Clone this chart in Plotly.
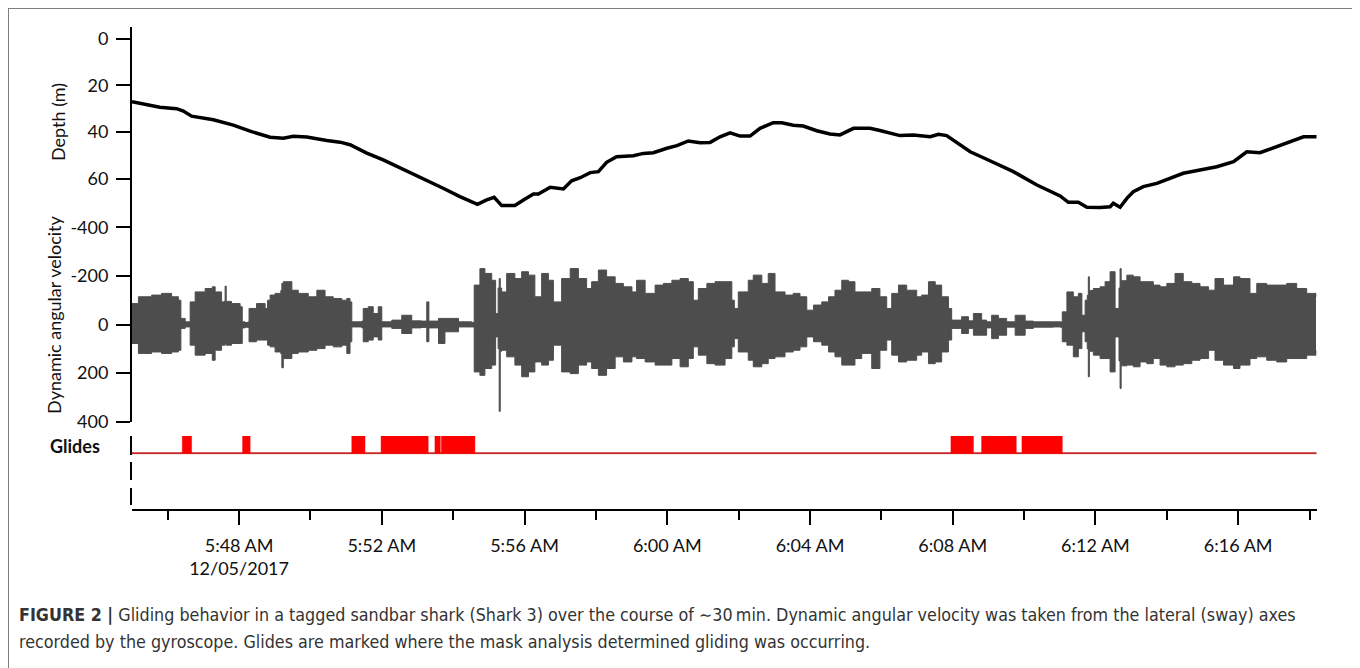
import pandas as pd
import plotly.graph_objects as go

W, H = 1360, 668
START = pd.Timestamp("2017-12-05 05:45:00")
END_MIN = 33.2

# ---- Depth profile (minutes after 5:45:00, depth m) ----
depth_min = [0.00, 0.41, 0.78, 1.25, 1.44, 1.67, 2.09, 2.28, 2.84, 3.31, 3.87, 4.24, 4.52, 4.90,
             5.46, 5.83, 6.11, 6.58, 7.04, 7.51, 8.07, 8.72, 9.19, 9.68, 9.94, 10.15, 10.36, 10.73,
             10.97, 11.25, 11.39, 11.72, 12.09, 12.32, 12.56, 12.84, 13.07, 13.30, 13.58, 14.05,
             14.33, 14.61, 14.99, 15.27, 15.59, 15.92, 16.20, 16.48, 16.76, 17.04, 17.32, 17.60,
             17.97, 18.21, 18.53, 18.81, 19.19, 19.56, 19.84, 20.22, 20.68, 20.96, 21.52, 21.90,
             22.37, 22.60, 22.83, 23.49, 23.95, 24.70, 25.36, 26.01, 26.24, 26.52, 26.76, 27.13,
             27.41, 27.50, 27.69, 27.88, 28.06, 28.34, 28.72, 29.00, 29.46, 29.93, 30.40, 30.87,
             31.24, 31.61, 32.08, 32.55, 32.83, 33.20]
depth_m = [27.0, 28.4, 29.4, 30.0, 31.0, 33.2, 34.2, 34.7, 37.0, 39.6, 42.2, 42.6, 41.8, 42.1,
           43.6, 44.3, 45.4, 49.0, 51.9, 55.2, 59.1, 64.0, 67.6, 70.9, 69.0, 67.9, 71.4, 71.4,
           69.0, 66.5, 66.5, 63.6, 64.3, 60.8, 59.5, 57.3, 56.9, 52.9, 50.5, 50.1,
           49.1, 48.8, 46.9, 45.8, 43.8, 44.5, 44.4, 42.0, 40.3, 41.7, 41.7, 38.4,
           36.0, 36.0, 37.1, 37.4, 39.4, 40.8, 41.2, 38.4, 38.4, 39.3, 41.5, 41.2,
           42.0, 40.9, 41.5, 48.4, 51.6, 56.9, 62.6, 67.3, 70.0, 70.0, 72.1, 72.2,
           71.9, 70.4, 72.1, 68.3, 65.5, 63.3, 61.9, 60.2, 57.6, 56.2, 54.8, 52.6,
           48.4, 48.8, 46.2, 43.7, 42.0, 42.0]

# ---- Dynamic angular velocity envelope (minutes, upper/lower extremes) ----
vel_min = [0.00, 0.18, 0.55, 0.83, 1.11, 1.30, 1.37, 1.49, 1.58, 1.63, 1.77, 2.05, 2.25, 2.33,
           2.51, 2.58, 2.61, 2.64, 2.79, 3.03, 3.09, 3.17, 3.24, 3.28, 3.49, 3.73, 3.80, 3.87,
           4.01, 4.17, 4.20, 4.24, 4.48, 4.66, 4.94, 5.18, 5.41, 5.64, 5.88, 6.02, 6.11, 6.16,
           6.44, 6.48, 6.62, 6.76, 6.90, 7.00, 7.28, 7.56, 7.84, 8.10, 8.26, 8.32, 8.59, 8.77,
           9.15, 9.52, 9.59, 9.75, 9.89, 10.08, 10.19, 10.26, 10.29, 10.32, 10.36, 10.50, 10.73,
           10.92, 11.11, 11.29, 11.48, 11.67, 11.81, 12.04, 12.28, 12.51, 12.74, 12.88, 13.07,
           13.30, 13.54, 13.77, 14.01, 14.14, 14.38, 14.66, 14.89, 15.13, 15.36, 15.59, 15.73,
           15.87, 16.11, 16.34, 16.62, 16.81, 16.88, 16.99, 17.27, 17.41, 17.65, 17.83, 18.02,
           18.30, 18.53, 18.72, 18.91, 19.10, 19.33, 19.52, 19.70, 19.89, 20.08, 20.26, 20.45,
           20.73, 20.96, 21.15, 21.29, 21.48, 21.71, 21.99, 22.13, 22.32, 22.51, 22.69, 22.88,
           22.97, 23.25, 23.44, 23.58, 23.81, 23.95, 24.09, 24.28, 24.51, 24.75, 25.03, 25.26,
           25.82, 26.03, 26.07, 26.20, 26.38, 26.52, 26.62, 26.71, 26.77, 26.80, 26.83, 26.94,
           27.13, 27.27, 27.41, 27.55, 27.66, 27.69, 27.72, 27.88, 28.06, 28.25, 28.44, 28.62,
           28.81, 29.00, 29.23, 29.46, 29.70, 29.93, 30.17, 30.35, 30.59, 30.87, 31.05, 31.33,
           31.52, 31.80, 32.08, 32.36, 32.64, 32.92, 33.18]
vel_top = [-86, -114, -121, -128, -114, -100, -25, -11, -11, -93, -134, -148, -155, -134,
           -93, -95, -158, -95, -86, -73, -11, -8, -10, -66, -86, -66, -100, -121,
           -128, -140, -169, -176, -141, -128, -114, -141, -114, -107, -100, -107, -93, -11,
           -14, -66, -73, -45, -73, -11, -18, -38, -15, -14, -93, -14, -25, -25,
           -11, -8, -162, -230, -210, -182, -45, -150, -189, -150, -134, -210, -189,
           -217, -203, -114, -210, -182, -93, -189, -230, -189, -148, -176, -224,
           -196, -169, -155, -134, -182, -128, -162, -169, -182, -189, -176, -100,
           -148, -169, -176, -176, -100, -66, -134, -182, -203, -169, -210, -134,
           -121, -128, -114, -59, -80, -93, -114, -141, -182, -176, -134, -134,
           -148, -114, -66, -128, -162, -141, -114, -121, -176, -162, -114, -66,
           -18, -32, -15, -45, -18, -11, -38, -25, -11, -38, -14, -11,
           -11, -10, -52, -134, -114, -128, -38, -100, -120, -196, -140, -148,
           -155, -176, -217, -66, -150, -230, -180, -203, -196, -176, -176, -162,
           -155, -169, -210, -176, -169, -155, -141, -189, -162, -196, -189, -128,
           -169, -162, -162, -169, -148, -128, -114]
vel_bottom = [78, 119, 113, 119, 113, 106, 16, 10, 10, 85, 126, 119, 147, 106,
              85, 85, 78, 85, 78, 78, 14, 11, 12, 71, 64, 64, 85, 92,
              113, 120, 178, 140, 119, 113, 106, 99, 85, 92, 85, 119, 71, 10,
              14, 71, 64, 51, 64, 10, 16, 37, 14, 12, 71, 14, 78, 30,
              10, 10, 195, 209, 181, 167, 51, 100, 357, 110, 106, 133, 167,
              215, 195, 154, 167, 147, 85, 195, 202, 167, 154, 181, 209,
              181, 133, 154, 133, 140, 154, 167, 167, 140, 174, 140, 92,
              126, 161, 167, 140, 92, 58, 113, 147, 174, 161, 140, 133,
              113, 106, 92, 51, 71, 85, 113, 133, 167, 167, 140, 119,
              181, 106, 64, 126, 154, 147, 126, 113, 161, 154, 113, 64,
              16, 37, 16, 44, 44, 14, 58, 44, 11, 44, 16, 11,
              10, 12, 71, 85, 133, 99, 30, 71, 100, 215, 110, 126,
              140, 140, 195, 51, 150, 263, 170, 167, 174, 154, 161, 140,
              167, 174, 167, 161, 147, 140, 106, 147, 167, 181, 167, 140,
              133, 147, 154, 140, 140, 126, 106]

# ---- Glides (minutes after 5:45:00) ----
glide_start_min = [1.41, 3.10, 6.16, 6.98, 8.49, 8.67, 22.95, 23.81, 24.94]
glide_end_min = [1.67, 3.31, 6.53, 8.30, 8.64, 9.61, 23.58, 24.78, 26.07]

# ---- Axis ticks ----
major_tick_times = ["05:48", "05:52", "05:56", "06:00", "06:04", "06:08", "06:12", "06:16"]
major_tick_labels = ["5:48 AM<br>12/05/2017", "5:52 AM", "5:56 AM", "6:00 AM",
                     "6:04 AM", "6:08 AM", "6:12 AM", "6:16 AM"]
minor_tick_times = ["05:46", "05:50", "05:54", "05:58", "06:02", "06:06", "06:10", "06:14", "06:18"]
depth_ticks = [0, 20, 40, 60]
vel_ticks = [-400, -200, 0, 200, 400]
vel_tick_labels = ["-400", "-200", "0", "200", "400"]

# page body margin offset (the figure sits 8px in from the page corner)
OX, OY = 8, 8


def to_time(mins):
    return [START + pd.Timedelta(minutes=m) for m in mins]


def clock(hm):
    return pd.Timestamp("2017-12-05 " + hm + ":00")


def px(x):
    return (x - OX) / W


def py(y):
    return 1 - (y - OY) / H


WAVE = "#4d4d4d"
FONT = "Lato, Carlito, 'Open Sans', sans-serif"

fig = go.Figure()

fig.add_trace(go.Scatter(x=to_time(depth_min), y=depth_m, mode="lines",
                         line=dict(color="black", width=3.5), yaxis="y", showlegend=False))

vt = to_time(vel_min)
fig.add_trace(go.Scatter(x=vt, y=vel_top, mode="lines", line=dict(color=WAVE, width=1, shape="hv"),
                         yaxis="y2", showlegend=False))
fig.add_trace(go.Scatter(x=vt, y=vel_bottom, mode="lines", line=dict(color=WAVE, width=1, shape="hv"),
                         fill="tonexty", fillcolor=WAVE, yaxis="y2", showlegend=False))

# glides baseline
fig.add_trace(go.Scatter(x=to_time([0, END_MIN]), y=[0, 0], mode="lines",
                         line=dict(color="#c62828", width=2), yaxis="y3", showlegend=False))
# glide rectangles
gx, gy = [], []
for s, e in zip(glide_start_min, glide_end_min):
    ts, te = to_time([s, e])
    gx += [ts, ts, te, te, ts, None]
    gy += [0, 1, 1, 0, 0, None]
fig.add_trace(go.Scatter(x=gx, y=gy, mode="lines", fill="toself", fillcolor="#ff0000",
                         line=dict(color="#ff0000", width=0.5), yaxis="y3", showlegend=False))

# empty tracks
fig.add_trace(go.Scatter(x=[], y=[], yaxis="y4", showlegend=False))
fig.add_trace(go.Scatter(x=[], y=[], yaxis="y5", showlegend=False))

axis_common = dict(showline=True, linecolor="black", linewidth=2, showgrid=False,
                   zeroline=False, automargin=False)
tickfont = dict(family=FONT, size=18, color="#111111")

fig.update_layout(
    width=W, height=H, autosize=False,
    margin=dict(l=0, r=0, t=0, b=0, pad=0, autoexpand=False),
    paper_bgcolor="white", plot_bgcolor="white",
    xaxis=dict(
        type="date",
        range=[START, START + pd.Timedelta(minutes=END_MIN)],
        domain=[px(132), px(1316.7)],
        anchor="free", position=py(510),
        tickmode="array",
        tickvals=[clock(t) for t in major_tick_times],
        ticktext=major_tick_labels,
        ticks="outside", ticklen=14, tickwidth=2, tickcolor="black",
        ticklabelstandoff=5,
        minor=dict(tickmode="array", tickvals=[clock(t) for t in minor_tick_times],
                   ticks="outside", ticklen=9, tickwidth=2, tickcolor="black", showgrid=False),
        tickfont=tickfont,
        **axis_common,
    ),
    yaxis=dict(
        domain=[py(227), py(27)],
        range=[(227 - 38.5) / 2.34, (27 - 38.5) / 2.34],
        anchor="x",
        tickmode="array", tickvals=depth_ticks,
        ticks="outside", ticklen=14, tickwidth=2, tickcolor="black",
        ticklabelstandoff=4,
        tickfont=tickfont,
        **axis_common,
    ),
    yaxis2=dict(
        domain=[py(422), py(227)],
        range=[401, -401],
        anchor="x",
        tickmode="array", tickvals=vel_ticks, ticktext=vel_tick_labels,
        ticks="outside", ticklen=14, tickwidth=2, tickcolor="black",
        ticklabelstandoff=4,
        tickfont=tickfont,
        **axis_common,
    ),
    yaxis3=dict(
        domain=[py(454.5), py(436)],
        range=[-0.07, 1.0],
        anchor="x", showticklabels=False, ticks="",
        **axis_common,
    ),
    yaxis4=dict(
        domain=[py(480), py(461.5)],
        range=[0, 1], anchor="x", showticklabels=False, ticks="",
        **axis_common,
    ),
    yaxis5=dict(
        domain=[py(505), py(488)],
        range=[0, 1], anchor="x", showticklabels=False, ticks="",
        **axis_common,
    ),
)

annotations = [
    dict(text="Depth (m)", x=px(58), y=py(122), textangle=-90),
    dict(text="Dynamic angular velocity", x=px(54), y=py(315), textangle=-90),
    dict(text="<b>Glides</b>", x=px(75), y=py(446)),
]
for a in annotations:
    fig.add_annotation(xref="paper", yref="paper", showarrow=False,
                       xanchor="center", yanchor="middle",
                       font=dict(family=FONT, size=18, color="#111111"), **a)

CAP_FONT = "'Liberation Sans Narrow', 'DejaVu Sans Condensed', 'Liberation Sans', Arial, sans-serif"
fig.add_annotation(xref="paper", yref="paper", showarrow=False, xanchor="left", yanchor="middle",
                   x=px(17), y=py(615),
                   text="<b>FIGURE 2 |</b> Gliding behavior in a tagged sandbar shark (Shark 3) over the course of \u223c30\u2009min. Dynamic angular velocity was taken from the lateral (sway) axes",
                   font=dict(family=CAP_FONT, size=17.75, color="#333333"))
fig.add_annotation(xref="paper", yref="paper", showarrow=False, xanchor="left", yanchor="middle",
                   x=px(17), y=py(642),
                   text="recorded by the gyroscope. Glides are marked where the mask analysis determined gliding was occurring.",
                   font=dict(family=CAP_FONT, size=17.75, color="#333333"))

fig.add_shape(type="rect", xref="paper", yref="paper",
              x0=px(8), x1=px(1355), y0=py(700), y1=py(8),
              line=dict(color="#7f7f7f", width=2), fillcolor="rgba(0,0,0,0)")

fig.write_html("out.html")
